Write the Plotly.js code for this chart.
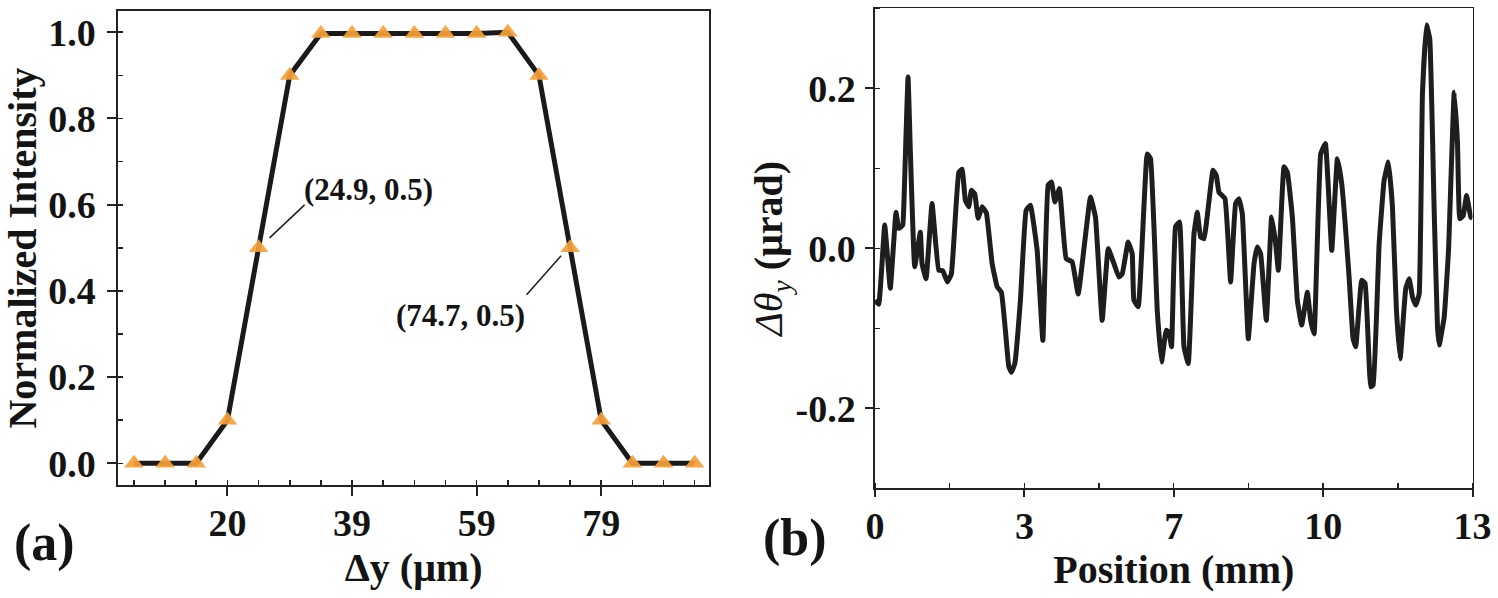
<!DOCTYPE html>
<html>
<head>
<meta charset="utf-8">
<script src="https://cdn.plot.ly/plotly-3.0.1.min.js"></script>
<style>html,body{margin:0;padding:0;background:#fff;}#chart{width:1498px;height:598px;}</style>
</head>
<body>
<div id="chart"></div>
<script>
// ---- Panel (a) data ----
const dyUm = [4.98, 9.96, 14.94, 19.92, 24.9, 29.88, 34.86, 39.84, 44.82, 49.8, 54.78, 59.76, 64.74, 69.72, 74.7, 79.68, 84.66, 89.64, 94.62];
const normIntensity = [0, 0, 0, 0.1, 0.5, 0.9, 0.997, 0.997, 0.997, 0.997, 0.997, 0.997, 1.0, 0.9, 0.5, 0.1, 0, 0, 0];
const aXTickVals = [19.92, 39.84, 59.76, 79.68];
const aXTickText = ['20', '39', '59', '79'];
const aYTickVals = [0, 0.2, 0.4, 0.6, 0.8, 1.0];
const aYTickText = ['0.0', '0.2', '0.4', '0.6', '0.8', '1.0'];
const calloutX = [24.9, 74.7];
const calloutY = [0.5, 0.5];
const calloutText = ['(24.9, 0.5)', '(74.7, 0.5)'];

// ---- Panel (b) data ----
const positionMm = [0, 0.081, 0.211, 0.333, 0.457, 0.516, 0.603, 0.625, 0.719, 0.769, 0.864, 0.986, 1.023, 1.111, 1.241, 1.387, 1.474, 1.574, 1.662, 1.823, 1.895, 1.966, 2.040, 2.097, 2.171, 2.243, 2.330, 2.424, 2.548, 2.657, 2.750, 2.837, 2.911, 2.968, 3.042, 3.164, 3.288, 3.382, 3.528, 3.652, 3.767, 3.839, 3.913, 4.013, 4.159, 4.290, 4.421, 4.688, 4.797, 4.943, 5.074, 5.198, 5.307, 5.379, 5.509, 5.596, 5.633, 5.727, 5.923, 5.995, 6.141, 6.234, 6.337, 6.396, 6.452, 6.539, 6.626, 6.722, 6.816, 6.940, 7.012, 7.084, 7.158, 7.354, 7.426, 7.484, 7.615, 7.737, 7.846, 7.920, 7.992, 8.122, 8.247, 8.318, 8.390, 8.514, 8.630, 8.717, 8.776, 8.900, 8.972, 9.081, 9.189, 9.283, 9.407, 9.479, 9.553, 9.697, 9.799, 9.937, 10.060, 10.154, 10.315, 10.402, 10.459, 10.590, 10.664, 10.786, 10.838, 10.969, 11.077, 11.171, 11.258, 11.345, 11.426, 11.548, 11.622, 11.694, 11.766, 11.840, 11.911, 11.999, 12.070, 12.166, 12.238, 12.275, 12.384, 12.478, 12.602, 12.674, 12.724, 12.798, 12.870, 12.963, 13.0];
const dThetaY = [-0.065, -0.07, 0.029, -0.05, 0.045, 0.025, 0.029, 0.05, 0.214, 0.122, -0.023, 0.020, -0.019, -0.038, 0.056, -0.0275, -0.028, -0.042, -0.032, 0.095, 0.099, 0.060, 0.052, 0.0725, 0.068, 0.0375, 0.052, 0.044, -0.019, -0.048, -0.055, -0.1025, -0.148, -0.155, -0.144, -0.065, 0.0475, 0.054, -0.0025, -0.115, 0.079, 0.083, 0.058, 0.0746, -0.013, -0.017, -0.057, 0.064, 0.039, -0.09, -0.0004, -0.019, -0.036, -0.032, 0.008, -0.0067, -0.065, -0.073, 0.118, 0.112, -0.0775, -0.142, -0.1025, -0.105, -0.123, 0.027, 0.033, -0.123, -0.144, 0.018, 0.045, 0.014, 0.012, 0.0975, 0.091, 0.070, 0.062, -0.042, 0.056, 0.062, 0.043, -0.113, -0.019, 0.0017, -0.0067, -0.09, 0.039, 0.006, -0.0275, 0.102, 0.095, 0.039, -0.065, -0.096, -0.055, -0.09, -0.107, 0.118, 0.131, -0.0025, 0.112, 0.081, -0.036, -0.113, -0.123, -0.04, -0.044, -0.173, -0.171, 0.006, 0.085, 0.108, 0.052, -0.0775, -0.138, -0.050, -0.038, -0.061, -0.071, -0.057, 0.193, 0.279, 0.262, 0.0475, -0.098, -0.121, -0.086, -0.0025, 0.195, 0.131, 0.037, 0.041, 0.066, 0.039, 0.0375];
const bXTickVals = [0, 3.25, 6.5, 9.75, 13];
const bXTickText = ['0', '3', '7', '10', '13'];
const bYTickVals = [-0.2, 0, 0.2];
const bYTickText = ['-0.2', '0.0', '0.2'];

const FONT = 'Liberation Serif, Times New Roman, serif';
const INK = '#141414';

const traces = [
  {
    x: dyUm, y: normIntensity, type: 'scatter', mode: 'lines+markers',
    xaxis: 'x', yaxis: 'y',
    line: {color: '#1a1a1a', width: 5},
    marker: {symbol: 'triangle-up', size: 17, color: 'rgba(245,160,55,0.92)', line: {width: 0}},
    hoverinfo: 'x+y'
  },
  {
    x: positionMm, y: dThetaY, type: 'scatter', mode: 'lines',
    xaxis: 'x2', yaxis: 'y2',
    line: {color: '#1e1e1e', width: 5, shape: 'spline', smoothing: 0.3},
    hoverinfo: 'x+y'
  }
];

const tickFont = {family: FONT, size: 38, color: INK, weight: 700};
const titleFont = {family: FONT, size: 40, color: INK, weight: 700};

const commonAxis = {
  showline: true, mirror: true, linecolor: '#222', showgrid: false, zeroline: false,
  ticks: 'outside', tickcolor: '#222', tickwidth: 2, tickfont: tickFont, tickmode: 'array'
};

// callout text offsets and leader-line offsets (pixels, y up) relative to each callout point
const textShift = [[110, 58], [-110, -68]];
const leaderOff = [[11, 10, 46, 43], [-9, -8, -43.5, -47]];

const annotations = [];
const shapes = [];
for (let i = 0; i < calloutX.length; i++) {
  shapes.push({
    type: 'line', xref: 'x', yref: 'y',
    xsizemode: 'pixel', ysizemode: 'pixel',
    xanchor: calloutX[i], yanchor: calloutY[i],
    x0: leaderOff[i][0], y0: leaderOff[i][1], x1: leaderOff[i][2], y1: leaderOff[i][3],
    line: {color: '#222', width: 1.6}
  });
  annotations.push({
    xref: 'x', yref: 'y', x: calloutX[i], y: calloutY[i], text: calloutText[i],
    showarrow: false, xshift: textShift[i][0], yshift: textShift[i][1],
    font: {family: FONT, size: 31, color: INK, weight: 700}
  });
}
annotations.push({xref: 'paper', yref: 'paper', x: 44 / 1498, y: 1 - 543 / 598, text: '(a)', showarrow: false,
  xanchor: 'center', yanchor: 'middle', font: {family: FONT, size: 52, color: INK, weight: 700}});
annotations.push({xref: 'paper', yref: 'paper', x: 795 / 1498, y: 1 - 538 / 598, text: '(b)', showarrow: false,
  xanchor: 'center', yanchor: 'middle', font: {family: FONT, size: 52, color: INK, weight: 700}});

const layout = {
  width: 1498, height: 598,
  margin: {l: 0, r: 0, t: 0, b: 0},
  paper_bgcolor: '#ffffff', plot_bgcolor: '#ffffff',
  showlegend: false,
  font: {family: FONT, color: INK},
  xaxis: Object.assign({}, commonAxis, {
    domain: [0.07897, 0.4733], range: [2.47, 96.91], anchor: 'y',
    linewidth: 2, ticklen: 9, tickvals: aXTickVals, ticktext: aXTickText, ticklabelstandoff: -6,
    minor: {tickmode: 'linear', tick0: 4.98, dtick: 4.98, ticks: 'inside', ticklen: 5, tickwidth: 1.6, tickcolor: '#222'},
    title: {text: 'Δy (μm)', font: titleFont, standoff: 10}
  }),
  yaxis: Object.assign({}, commonAxis, {
    domain: [0.18896, 0.98161], range: [-0.0503, 1.0494], anchor: 'x',
    linewidth: 2, ticklen: 9, tickvals: aYTickVals, ticktext: aYTickText, ticklabelstandoff: 4,
    minor: {tickmode: 'linear', tick0: 0, dtick: 0.1, ticks: 'inside', ticklen: 5, tickwidth: 1.6, tickcolor: '#222'},
    title: {text: 'Normalized Intensity', font: titleFont, standoff: 10}
  }),
  xaxis2: Object.assign({}, commonAxis, {
    domain: [0.58411, 0.98298], range: [0, 13], anchor: 'y2',
    linewidth: 1.7, ticklen: 7, tickvals: bXTickVals, ticktext: bXTickText, ticklabelstandoff: -4,
    minor: {tickmode: 'linear', tick0: 0, dtick: 1.625, ticks: 'inside', ticklen: 5, tickwidth: 1.5, tickcolor: '#222'},
    title: {text: 'Position (mm)', font: titleFont, standoff: 8}
  }),
  yaxis2: Object.assign({}, commonAxis, {
    domain: [0.18344, 0.98612], range: [-0.3, 0.3], anchor: 'x2',
    linewidth: 1.7, ticklen: 8, tickvals: bYTickVals, ticktext: bYTickText, ticklabelstandoff: 2,
    minor: {tickmode: 'linear', tick0: 0, dtick: 0.1, ticks: 'inside', ticklen: 5, tickwidth: 1.5, tickcolor: '#222'},
    title: {text: '<i>Δθ<sub>y</sub></i> <b>(μrad)</b>', font: {family: FONT, size: 40, color: INK, weight: 400}, standoff: 0}
  }),
  shapes: shapes,
  annotations: annotations
};

Plotly.newPlot('chart', traces, layout, {displayModeBar: false, staticPlot: true});
</script>
</body>
</html>
